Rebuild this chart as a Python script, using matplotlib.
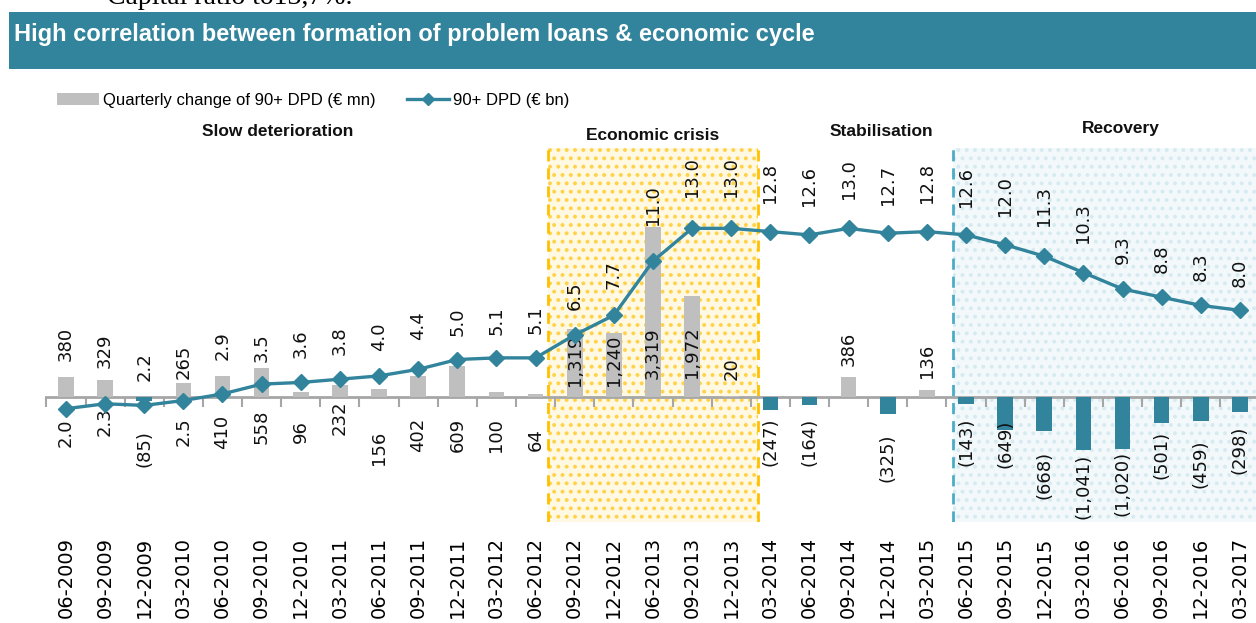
import matplotlib
matplotlib.use("Agg")
import matplotlib.pyplot as plt
import matplotlib.transforms as mtransforms
from matplotlib.patches import Rectangle, Patch
from matplotlib.lines import Line2D
import numpy as np

# --- data ---
quarters = ["06-2009", "09-2009", "12-2009", "03-2010", "06-2010", "09-2010", "12-2010",
            "03-2011", "06-2011", "09-2011", "12-2011", "03-2012", "06-2012", "09-2012",
            "12-2012", "06-2013", "09-2013", "12-2013", "03-2014", "06-2014", "09-2014",
            "12-2014", "03-2015", "06-2015", "09-2015", "12-2015", "03-2016", "06-2016",
            "09-2016", "12-2016", "03-2017"]
dpd_change_mn = [380, 329, -85, 265, 410, 558, 96, 232, 156, 402, 609, 100, 64, 1319,
                 1240, 3319, 1972, 20, -247, -164, 386, -325, 136, -143, -649, -668,
                 -1041, -1020, -501, -459, -298]
dpd_bn = [2.0, 2.3, 2.2, 2.5, 2.9, 3.5, 3.6, 3.8, 4.0, 4.4, 5.0, 5.1, 5.1, 6.5, 7.7,
          11.0, 13.0, 13.0, 12.8, 12.6, 13.0, 12.7, 12.8, 12.6, 12.0, 11.3, 10.3, 9.3,
          8.8, 8.3, 8.0]
phases = ["Slow deterioration", "Economic crisis", "Stabilisation", "Recovery"]

# --- layout (pixels from the top of the figure) ---
bar_label_px = [344, 351, 449, 362, 432, 427, 432, 418, 448, 435, 435, 435, 440, 360,
                360, 353, 352, 369, 442, 442, 349, 458, 361, 442, 444, 475, 486, 483,
                455, 464, 450]
line_label_px = [433, 422, 367, 432, 346, 348, 344, 341, 337, 326, 322, 321, 320, 296,
                 275, 205, 177, 177, 183, 186, 179, 185, 183, 187, 196, 206, 223, 250,
                 259, 267, 273]
phase_pos = [(5.4, 131), (15.0, 135), (20.85, 131), (26.95, 129)]
crisis_span = (12.33, 17.69)
recovery_span = (22.67, 31.0)

W, H = 1256, 623
TEAL = "#31849B"
GREY = "#BFBFBF"
AXIS_GREY = "#A6A6A6"
NARROW = ["Liberation Sans Narrow", "Liberation Sans", "DejaVu Sans"]


def fx(px):
    return px / W


def fy(px):
    return 1 - px / H


fig = plt.figure(figsize=(W / 100, H / 100), dpi=100)
plt.rcParams["hatch.linewidth"] = 1.6

# cut-off text line above the title band
fig.text(fx(107), fy(4), "Capital ratio to13,7%.", family=["Liberation Serif", "DejaVu Serif"],
         fontsize=20, va="baseline", ha="left", color="black")

# title band
fig.patches.append(Rectangle((fx(9), fy(69)), 1 - fx(9), (69 - 12) / H,
                             transform=fig.transFigure, facecolor=TEAL, edgecolor="none"))
fig.text(fx(14), fy(41), "High correlation between formation of problem loans & economic cycle",
         family=NARROW, fontweight="bold", fontsize=17, color="white", va="baseline", ha="left")

# main axes: bars (EUR mn)
ax = fig.add_axes([fx(46.4), fy(522), (1259.5 - 46.4) / W, (522 - 148) / H])
x = np.arange(len(quarters))
bar_colors = [GREY if v >= 0 else TEAL for v in dpd_change_mn]
ax.bar(x, dpd_change_mn, width=0.4, color=bar_colors, zorder=3)
ax.set_xlim(-0.5, len(quarters) - 0.5)
ax.set_ylim(-2437, 4854)

ax.axvspan(*crisis_span, facecolor="#FFF9E3", edgecolor="#FFD24A", hatch="..", lw=0, zorder=1)
ax.axvspan(*recovery_span, facecolor="#F3F9FB", edgecolor="#D6EAF1", hatch="..", lw=0, zorder=1)
for xs in crisis_span:
    ax.axvline(xs, color="#FFC000", lw=2, ls=(0, (4, 2.5)), zorder=2)
ax.axvline(recovery_span[0], color="#4BACC6", lw=2, ls=(0, (4, 2.5)), zorder=2)

for s in ax.spines.values():
    s.set_visible(False)
ax.set_yticks([])
ax.set_xticks(x)
ax.set_xticklabels(quarters, rotation=90, fontsize=14, va="top", ha="center")
ax.tick_params(axis="x", length=0, pad=10.5)

# zero line with ticks between quarters
ylo, yhi = ax.get_ylim()
zero_axis = ax.secondary_xaxis((0 - ylo) / (yhi - ylo))
zero_axis.set_xticks(np.arange(-0.5, len(quarters), 1.0))
zero_axis.tick_params(length=7, width=1.5, color=AXIS_GREY, labelbottom=False)
zero_axis.spines["bottom"].set_color(AXIS_GREY)
zero_axis.spines["bottom"].set_linewidth(2)
zero_axis.set_zorder(2)

# line on second axis (EUR bn)
ax2 = ax.twinx()
ax2.plot(x, dpd_bn, color=TEAL, lw=2.4, marker="D", ms=8, zorder=4)
ax2.set_ylim(-4.91, 17.9)
ax2.axis("off")

# data labels
trans = mtransforms.blended_transform_factory(ax.transData, fig.transFigure)
for i, v in enumerate(dpd_change_mn):
    txt = f"{v:,}" if v >= 0 else f"({abs(v):,})"
    ax.text(i, fy(bar_label_px[i]), txt, transform=trans, rotation=90, ha="center",
            va="center", fontsize=13, color="#111111", zorder=5)
for i, v in enumerate(dpd_bn):
    ax.text(i, fy(line_label_px[i]), f"{v:.1f}", transform=trans, rotation=90,
            ha="center", va="center", fontsize=13, color="#111111", zorder=5)

# phase headers
for name, (px_x, px_y) in zip(phases, phase_pos):
    ax.text(px_x, fy(px_y), name, transform=trans, ha="center", va="center",
            family=NARROW, fontweight="bold", fontsize=12.5, color="#111111")

# legend
handles = [Patch(facecolor=GREY, edgecolor="none"),
           Line2D([], [], color=TEAL, lw=2.4, marker="D", ms=6)]
fig.legend(handles, ["Quarterly change of 90+ DPD (\u20ac mn)", "90+ DPD (\u20ac bn)"],
           loc="center left", bbox_to_anchor=(fx(57), fy(100)), ncol=2, frameon=False,
           prop={"family": NARROW, "size": 12}, handlelength=2.5, handletextpad=0.25,
           columnspacing=1.9, borderaxespad=0, borderpad=0)

fig.savefig("out.png", dpi=100)
